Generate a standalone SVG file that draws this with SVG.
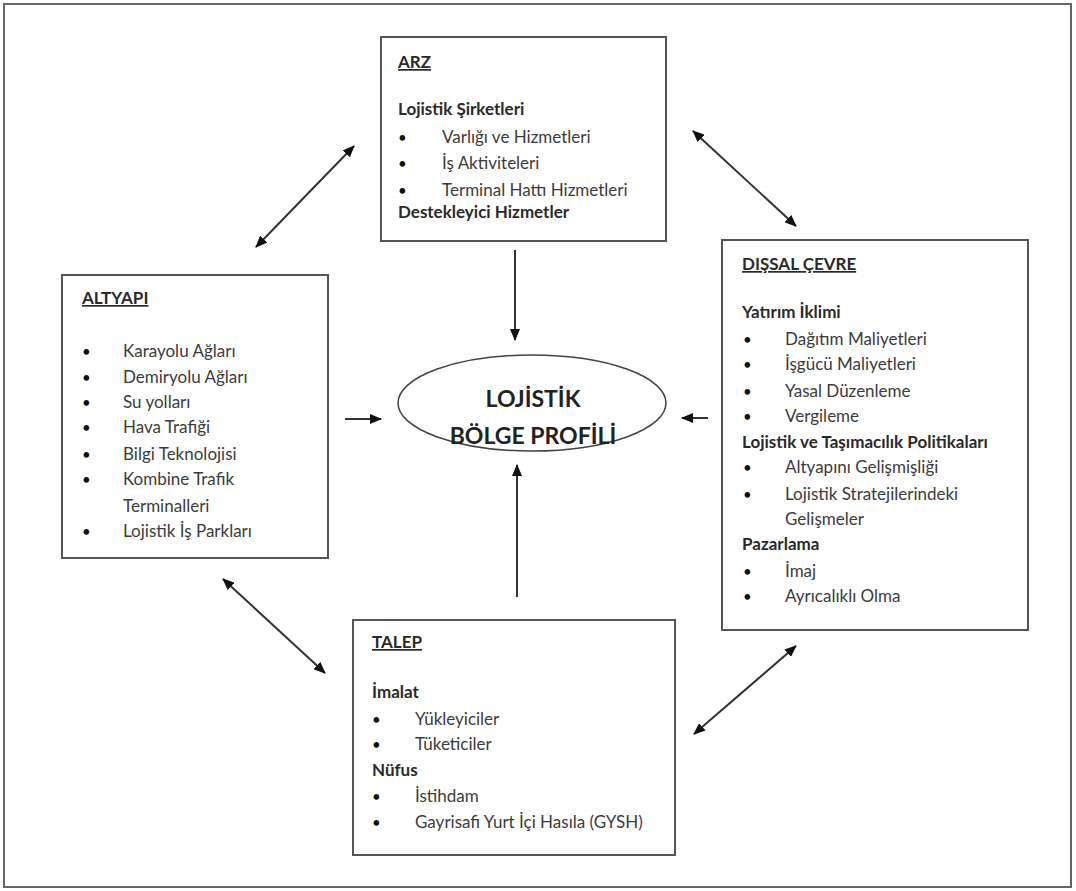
<svg xmlns="http://www.w3.org/2000/svg" width="1076" height="891" viewBox="0 0 1076 891">
  <defs>
    <marker id="head" viewBox="0 0 12 10" refX="11" refY="5" markerWidth="12" markerHeight="10" markerUnits="userSpaceOnUse" orient="auto-start-reverse">
      <path d="M0,0 L12,5 L0,10 z" fill="#111"/>
    </marker>
    <style>
      .frame { fill: #fff; stroke: #666; stroke-width: 2; }
      .box { fill: #fff; stroke: #555; stroke-width: 2; }
      .ell { fill: #fff; stroke: #444; stroke-width: 1.5; }
      .link { stroke: #333; stroke-width: 2; fill: none; }
      .two { marker-start: url(#head); marker-end: url(#head); }
      .one { marker-end: url(#head); }
      text { font-family: Lato, "Open Sans", "Liberation Sans", sans-serif; font-size: 17px; fill: #3c3c3c; }
      .h { font-weight: bold; fill: #2a2a2a; }
      .u { font-weight: bold; fill: #2a2a2a; text-decoration: underline; }
      .b { font-size: 15px; fill: #111; }
      .core { font-weight: bold; font-size: 23px; fill: #222; text-anchor: middle; }
    </style>
  </defs>

  <rect class="frame" x="4" y="4" width="1067" height="883"/>

  <!-- connectors -->
  <g id="connectors">
    <line class="link two" x1="256" y1="247" x2="354" y2="146"/>
    <line class="link two" x1="693" y1="131" x2="796" y2="226"/>
    <line class="link two" x1="223" y1="579" x2="325" y2="673"/>
    <line class="link two" x1="796" y1="646" x2="694" y2="734"/>
    <line class="link one" x1="515" y1="250" x2="515" y2="340"/>
    <line class="link one" x1="517" y1="597" x2="517" y2="465"/>
    <line class="link one" x1="345" y1="419" x2="381" y2="419"/>
    <line class="link one" x1="708" y1="418" x2="682" y2="418"/>
  </g>

  <!-- supply -->
  <g id="arz">
    <rect class="box" x="381" y="37" width="285" height="204"/>
    <text class="u" x="398" y="68">ARZ</text>
    <text class="h" x="398" y="115">Lojistik Şirketleri</text>
    <text class="b" x="398" y="143">•</text><text x="442" y="143">Varlığı ve Hizmetleri</text>
    <text class="b" x="398" y="169">•</text><text x="442" y="169">İş Aktiviteleri</text>
    <text class="b" x="398" y="196">•</text><text x="442" y="196">Terminal Hattı Hizmetleri</text>
    <text class="h" x="398" y="218">Destekleyici Hizmetler</text>
  </g>

  <!-- infrastructure -->
  <g id="altyapi">
    <rect class="box" x="62" y="275" width="266" height="283"/>
    <text class="u" x="82" y="304">ALTYAPI</text>
    <text class="b" x="82" y="357">•</text><text x="123" y="357">Karayolu Ağları</text>
    <text class="b" x="82" y="383">•</text><text x="123" y="383">Demiryolu Ağları</text>
    <text class="b" x="82" y="408">•</text><text x="123" y="408">Su yolları</text>
    <text class="b" x="82" y="433">•</text><text x="123" y="433">Hava Trafiği</text>
    <text class="b" x="82" y="460">•</text><text x="123" y="460">Bilgi Teknolojisi</text>
    <text class="b" x="82" y="485">•</text><text x="123" y="485">Kombine Trafik</text>
    <text x="123" y="512">Terminalleri</text>
    <text class="b" x="82" y="537">•</text><text x="123" y="537">Lojistik İş Parkları</text>
  </g>

  <!-- central profile -->
  <g id="profil">
    <ellipse class="ell" cx="532" cy="403" rx="134" ry="48"/>
    <text class="core" x="533" y="407">LOJİSTİK</text>
    <text class="core" x="533" y="444">BÖLGE PROFİLİ</text>
  </g>

  <!-- external environment -->
  <g id="dissal-cevre">
    <rect class="box" x="722" y="240" width="306" height="390"/>
    <text class="u" x="742" y="270">DIŞSAL ÇEVRE</text>
    <text class="h" x="742" y="318">Yatırım İklimi</text>
    <text class="b" x="743" y="345">•</text><text x="785" y="345">Dağıtım Maliyetleri</text>
    <text class="b" x="743" y="370">•</text><text x="785" y="370">İşgücü Maliyetleri</text>
    <text class="b" x="743" y="397">•</text><text x="785" y="397">Yasal Düzenleme</text>
    <text class="b" x="743" y="422">•</text><text x="785" y="422">Vergileme</text>
    <text class="h" x="742" y="448">Lojistik ve Taşımacılık Politikaları</text>
    <text class="b" x="743" y="473">•</text><text x="785" y="473">Altyapını Gelişmişliği</text>
    <text class="b" x="743" y="500">•</text><text x="785" y="500">Lojistik Stratejilerindeki</text>
    <text x="785" y="525">Gelişmeler</text>
    <text class="h" x="742" y="550">Pazarlama</text>
    <text class="b" x="743" y="577">•</text><text x="785" y="577">İmaj</text>
    <text class="b" x="743" y="602">•</text><text x="785" y="602">Ayrıcalıklı Olma</text>
  </g>

  <!-- demand -->
  <g id="talep">
    <rect class="box" x="353" y="620" width="322" height="235"/>
    <text class="u" x="372" y="648">TALEP</text>
    <text class="h" x="372" y="698">İmalat</text>
    <text class="b" x="372" y="725">•</text><text x="415" y="725">Yükleyiciler</text>
    <text class="b" x="372" y="750">•</text><text x="415" y="750">Tüketiciler</text>
    <text class="h" x="372" y="776">Nüfus</text>
    <text class="b" x="372" y="802">•</text><text x="415" y="802">İstihdam</text>
    <text class="b" x="372" y="828">•</text><text x="415" y="828">Gayrisafi Yurt İçi Hasıla (GYSH)</text>
  </g>
</svg>
